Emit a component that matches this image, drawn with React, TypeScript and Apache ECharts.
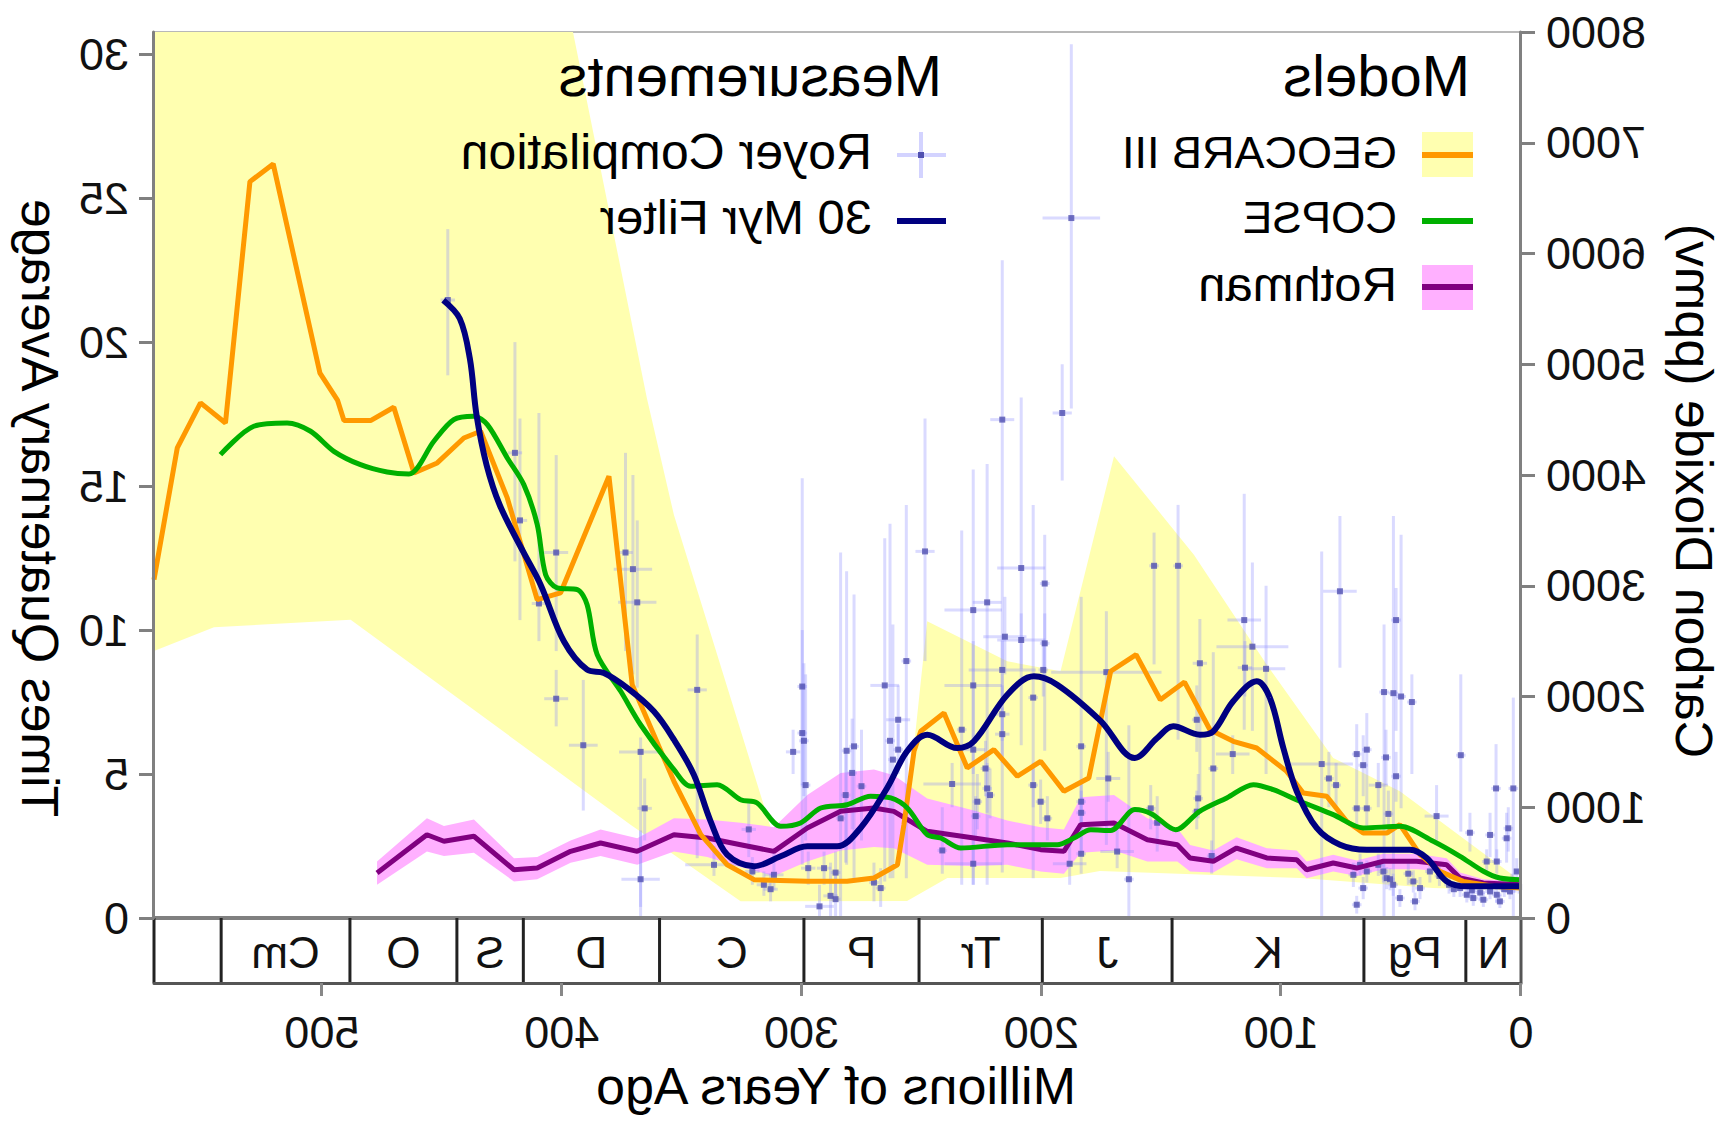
import React, { useEffect, useRef } from "react";
import * as echarts from "echarts";

const FONT = "'Liberation Sans', Arial, Helvetica, sans-serif";

const AGE_MAX = 570;
const PPM_MAX = 8000;
const PPM_PER_TQA = 260;
const xTickValues = [0, 100, 200, 300, 400, 500];
const tqaTickValues = [0, 5, 10, 15, 20, 25, 30];

// geologic periods [start Ma, end Ma, label]
const periods: [number, number, string][] = [
  [0, 23, "N"], [23, 65.5, "Pg"], [65.5, 145.5, "K"], [145.5, 199.6, "J"],
  [199.6, 251, "Tr"], [251, 299, "P"], [299, 359.2, "C"], [359.2, 416, "D"],
  [416, 443.7, "S"], [443.7, 488.3, "O"], [488.3, 542, "Cm"], [542, 570, ""],
];

// GEOCARB III [Ma, ppm]
const geocarb: [number, number][] = [
  [570, 3055], [560.3, 4244], [550.6, 4651], [540.2, 4470], [530, 6649], [520.3, 6809],
  [500.8, 4919], [493.5, 4677], [490.8, 4491], [479.7, 4491], [470, 4612], [461.6, 4018],
  [451.9, 4109], [440.8, 4334], [433.8, 4395], [422.7, 3793], [410.2, 2874], [400.5, 2935],
  [380.3, 3989], [370.6, 2107], [353.2, 1234], [342, 752], [331, 481], [319.8, 346],
  [297.6, 331], [281, 331], [269.8, 361], [260, 481], [257.3, 843], [253.1, 1505],
  [250.3, 1686], [240.6, 1851], [230.9, 1355], [219.8, 1520], [210, 1280], [200.3, 1415],
  [190.6, 1144], [180.2, 1264], [171.1, 2228], [160.5, 2378], [150.4, 1971], [140.3, 2130],
  [129.7, 1700], [120, 1595], [110.2, 1535], [97.7, 1324], [90.8, 1129], [81, 1099],
  [72.7, 873], [65.8, 767], [56, 767], [50.5, 843], [42.1, 572], [33.8, 421],
  [24.1, 331], [11.6, 286], [0, 271],
];

// GEOCARB III uncertainty envelope
const geocarbUpper: [number, number][] = [
  [570, 8000], [395.3, 8000], [364.5, 4696], [353.2, 3639], [312.8, 813], [300, 600],
  [270, 650], [256, 963], [247.6, 2679], [214.2, 2318], [192, 2228], [169.7, 4169],
  [136.4, 3281], [106, 2287], [78.3, 1445], [50.5, 1144], [1.8, 361], [0, 350],
];
const geocarbLower: [number, number][] = [
  [570, 2410], [545, 2625], [488, 2694], [371.3, 843], [353.2, 572], [325.4, 151],
  [256, 153], [239.2, 361], [192, 361], [175.6, 424], [92, 361], [36.7, 271], [0, 250],
];

// COPSE [Ma, ppm]
const copse: [number, number][] = [
  [542.3, 4184], [528.4, 4440], [514.5, 4470], [504.7, 4395], [495, 4214], [483.9, 4093],
  [472.8, 4027], [463.7, 4009], [453.3, 4305], [445, 4500], [436.6, 4530], [431, 4455],
  [422.7, 4154], [415.8, 3913], [410.2, 3552], [406.7, 3100], [401.9, 2980], [393.5, 2965],
  [389.4, 2829], [385.2, 2378], [375.4, 2047], [367.1, 1745], [353.2, 1340], [346.2, 1189],
  [335.2, 1204], [325.4, 1068], [318.5, 1038], [308.7, 828], [300.4, 858], [292, 993],
  [281, 1023], [271.2, 1099], [262.8, 1084], [255.9, 993], [247.6, 752], [242, 722],
  [233.6, 632], [214.2, 662], [193.4, 662], [186.4, 722], [179.4, 797], [171.1, 790],
  [161, 980], [154, 940], [144, 797], [134, 963], [122.7, 1084], [111.6, 1204],
  [103.3, 1159], [92.2, 1054], [78.3, 933], [65.8, 813], [50.5, 828], [36.6, 693],
  [25.4, 557], [15.7, 422], [8.8, 361], [0, 346],
];

// Rothman [Ma, ppm, low, high]
const rothman: [number, number, number, number][] = [
  [477, 406, 300, 510], [456.2, 752, 600, 900], [449.1, 693, 560, 830], [436.6, 738, 590, 890],
  [419.9, 436, 330, 540], [410.2, 451, 350, 550], [396.3, 602, 500, 700], [383.8, 677, 560, 800],
  [368.5, 602, 480, 720], [353.2, 752, 600, 900], [339.3, 722, 550, 890], [325.4, 662, 460, 860],
  [311.5, 602, 380, 820], [297.6, 813, 510, 1110], [283.7, 963, 610, 1310], [269.8, 993, 640, 1340],
  [261.5, 963, 630, 1290], [247.6, 783, 480, 1080], [228.1, 722, 470, 970], [214.2, 677, 480, 880],
  [200.3, 617, 420, 820], [190.6, 602, 400, 800], [183.6, 843, 590, 1090], [169.7, 858, 610, 1110],
  [155.8, 707, 510, 900], [143.3, 662, 510, 810], [138, 542, 420, 660], [128.3, 512, 410, 610],
  [118.6, 632, 530, 730], [106, 542, 450, 630], [93.5, 527, 450, 610], [89.4, 436, 360, 510],
  [78.3, 497, 420, 570], [68.5, 451, 380, 520], [57.4, 512, 440, 580], [43.5, 512, 440, 580],
  [31, 481, 420, 540], [25.4, 361, 310, 410], [15.7, 316, 280, 350], [0, 301, 270, 330],
];

// 30 Myr filter [Ma, ppm]
const filter30: [number, number][] = [
  [449.4, 5578], [442.5, 5412], [438.3, 5051], [435.5, 4539], [431.3, 4088], [425.8, 3727],
  [416, 3305], [408.8, 3010], [399.1, 2499], [389.4, 2242], [382.4, 2212], [372.7, 2077],
  [361.6, 1866], [353.2, 1610], [344.9, 1294], [337.9, 873], [331, 572], [319.8, 467],
  [308.7, 557], [297.6, 647], [285.2, 647], [275.4, 813], [264.3, 1174], [256, 1505],
  [247.6, 1655], [235.1, 1535], [228.1, 1596], [214.2, 2016], [203.1, 2183], [193.4, 2107],
  [175.5, 1785], [161, 1445], [151.7, 1625], [145, 1731], [133.9, 1655], [128.3, 1686],
  [120, 1957], [110.2, 2137], [104.7, 1987], [99.1, 1535], [93.5, 1144], [85.2, 813],
  [75.5, 662], [64.3, 617], [46.3, 617], [39.3, 542], [31, 331], [22.6, 286], [0, 286],
];

// Royer compilation [Ma, ppm, low, high, age error]
const royer: [number, number, number, number, number][] = [
  [447.5, 5580, 4900, 6220, 3], [419.5, 4200, 3220, 5200, 3], [417.4, 3590, 2690, 4510, 3],
  [409.5, 2840, 2500, 4560, 3], [402.3, 3300, 2410, 4180, 5], [402.3, 1980, 1730, 2240, 5],
  [391, 1560, 970, 2150, 6], [373.4, 3300, 2410, 4200, 3], [370.3, 3150, 2200, 4000, 8],
  [368.5, 2850, 2080, 3590, 8], [367.1, 1500, 100, 1630, 9], [365.4, 990, 700, 1260, 3],
  [367.1, 350, 0, 790, 8], [343.5, 2060, 540, 2560, 4], [336.5, 480, 380, 650, 12],
  [322, 800, 550, 1040, 3], [311.5, 390, 250, 600, 4], [312.9, 260, 150, 400, 3],
  [320.5, 420, 300, 550, 3], [315.7, 300, 200, 420, 3], [299.7, 2090, 480, 3970, 2],
  [299.7, 1670, 1200, 2600, 2], [299, 1600, 1100, 2300, 2], [303.5, 1500, 1300, 1700, 3],
  [298.3, 1200, 700, 2200, 2], [297.2, 450, 300, 600, 3], [290.6, 450, 300, 600, 3],
  [292.5, 105, 0, 300, 6], [287.9, 200, 0, 500, 3], [285.8, 170, 0, 400, 2],
  [283.7, 900, 0, 3300, 2], [285.8, 410, 200, 600, 2], [281.2, 1510, 480, 3130, 2],
  [278.1, 1550, 330, 2920, 2], [278.9, 1310, 800, 1800, 2], [275, 1190, 700, 1700, 2],
  [281.6, 1110, 500, 1500, 2], [269.8, 320, 150, 500, 2], [267, 270, 100, 450, 2],
  [265.3, 2100, 330, 3430, 6], [263.1, 1600, 360, 3560, 2], [261.9, 1430, 360, 2650, 2],
  [259.7, 1790, 1500, 2100, 5], [259.7, 1520, 1300, 1750, 2], [256.3, 2320, 360, 3730, 2],
  [248.5, 3310, 2320, 4510, 4], [241.3, 610, 400, 1000, 2], [237.2, 1210, 1000, 1400, 12],
  [233.2, 1700, 300, 3500, 2], [228.4, 2780, 300, 4050, 12], [228.4, 2100, 1700, 2500, 12],
  [228.4, 1520, 1300, 1700, 5], [228.4, 490, 300, 700, 12], [226.7, 1050, 800, 1300, 2],
  [227.4, 920, 700, 1100, 2], [222.6, 2850, 300, 4100, 6], [223.3, 1350, 1100, 1600, 2],
  [222.6, 1170, 950, 1400, 2], [221.4, 1110, 900, 1350, 2], [216.3, 4500, 410, 5940, 5],
  [215.2, 2540, 2200, 2900, 9], [216.3, 2240, 2000, 2500, 14], [216.3, 1840, 1600, 2100, 3],
  [216.3, 1660, 1400, 1900, 3], [208.4, 3160, 1560, 4700, 10], [208.4, 2510, 2250, 2750, 10],
  [203.4, 1990, 360, 3730, 2], [203.4, 1200, 1000, 1400, 2], [200.3, 1050, 850, 1250, 2],
  [198.6, 3020, 1510, 3460, 2], [198.6, 2480, 2200, 2750, 2], [199.2, 2240, 2000, 2500, 2],
  [197.5, 900, 700, 1100, 2], [191.3, 4560, 3950, 5000, 4], [187.5, 6320, 4600, 7890, 12],
  [188.2, 490, 300, 680, 7], [183.4, 1550, 600, 2900, 2], [183.4, 1050, 850, 1250, 2],
  [183.4, 950, 750, 1150, 2], [183.4, 580, 400, 760, 2], [172.9, 2220, 660, 2770, 23],
  [172.1, 1260, 1050, 1500, 5], [168.4, 600, 450, 800, 7], [163.5, 350, 0, 1740, 2],
  [153, 3180, 2290, 3480, 2], [143, 3180, 1610, 3730, 2], [151.7, 860, 600, 1100, 2],
  [154.4, 990, 800, 1200, 2], [133.9, 2300, 1100, 2700, 3], [135.2, 1790, 1500, 2100, 2],
  [134.6, 1080, 900, 1300, 2], [135.2, 960, 800, 1150, 2], [128.3, 1350, 500, 2400, 2],
  [129, 560, 400, 700, 2], [120.2, 1480, 1300, 1650, 7], [115.4, 2690, 1700, 3830, 7],
  [112, 2450, 1690, 3210, 15], [115.1, 2260, 2000, 2500, 3], [106.3, 2250, 1300, 3000, 8],
  [83.1, 1390, 0, 3310, 13], [80.1, 1260, 1000, 1500, 2], [77.1, 1200, 1000, 1400, 2],
  [75.5, 2950, 2260, 3630, 7], [68.5, 1480, 1200, 1750, 2], [64.3, 1520, 1200, 1850, 2],
  [65.8, 1380, 1100, 1650, 2], [68.5, 990, 800, 1200, 2], [64.3, 990, 800, 1200, 2],
  [57.1, 2040, 0, 2650, 2], [53.2, 2030, 0, 3630, 2], [50, 2000, 990, 3460, 2],
  [45.5, 1950, 1300, 2200, 2], [52.1, 2690, 1690, 2980, 2], [56.3, 1450, 1200, 1700, 2],
  [59.5, 1200, 1000, 1400, 4], [52.1, 1280, 1050, 1500, 2], [55.3, 940, 750, 1150, 2],
  [35.2, 920, 700, 1200, 5], [25.1, 1470, 780, 2200, 2], [21.3, 770, 600, 950, 2],
  [10.4, 1170, 480, 1570, 2], [3.2, 1170, 0, 1990, 2], [5.3, 810, 600, 1000, 2],
  [12.9, 750, 550, 950, 2], [6, 720, 500, 950, 2],
  [69.9, 390, 280, 500, 2], [65.8, 270, 170, 370, 2], [68.5, 120, 40, 200, 2],
  [56, 360, 260, 460, 2], [53.3, 300, 200, 400, 2], [50.5, 180, 100, 260, 2],
  [44.9, 330, 230, 430, 2], [44.2, 150, 70, 230, 2], [42.1, 270, 170, 370, 2],
  [25.4, 270, 190, 350, 2], [22.6, 210, 140, 280, 2], [19.9, 180, 110, 250, 2],
  [15.7, 165, 100, 230, 2], [12.9, 240, 170, 310, 2], [10.1, 210, 140, 280, 2],
  [8.8, 150, 90, 210, 2], [4.6, 240, 170, 310, 2], [1.8, 420, 300, 540, 1],
  [14.3, 510, 400, 620, 2], [10.1, 510, 400, 620, 2], [67.1, 480, 380, 580, 2],
  [64.3, 420, 320, 520, 2], [57.4, 420, 320, 520, 2], [54.6, 350, 250, 450, 2],
  [59.5, 480, 380, 580, 2], [20.5, 250, 180, 320, 2], [17, 230, 160, 300, 2],
  [7, 260, 190, 330, 2], [2.5, 300, 230, 370, 1], [0.8, 280, 220, 340, 1],
  [30, 300, 220, 380, 2], [28, 260, 190, 330, 2], [34, 380, 290, 470, 2],
  [38, 420, 320, 520, 2], [47, 400, 300, 500, 2], [3.8, 330, 260, 400, 1],
];

const C_YELLOW = "#ffffb0";
const C_ORANGE = "#ff9900";
const C_GREEN = "#00b000";
const C_PURPLE = "#800080";
const C_PINK = "#ffb0ff";
const C_NAVY = "#000080";
const C_POINT = "#5050b0";
const C_BAR = "rgba(140,140,255,0.32)";

const BAR_H = 65;

function bandSeries(upper: [number, number][], lower: [number, number][], color: string, z: number) {
  return {
    type: "custom",
    coordinateSystem: "cartesian2d",
    xAxisIndex: 0,
    yAxisIndex: 0,
    z,
    silent: true,
    data: [[0, 0]],
    renderItem: (_p: any, api: any) => {
      const pts = upper
        .map((p) => api.coord(p))
        .concat(lower.slice().reverse().map((p) => api.coord(p)));
      return { type: "polygon", shape: { points: pts }, style: { fill: color } };
    },
  };
}

function txt(text: string, x: number, y: number, size: number, align = "left", rotation = 0) {
  return {
    type: "text",
    x,
    y,
    rotation,
    z: 100,
    style: {
      text,
      fill: "#000",
      fontSize: size,
      fontFamily: FONT,
      textAlign: align,
      textVerticalAlign: "middle",
    },
  };
}

function ln(x1: number, y1: number, x2: number, y2: number, stroke: string, w: number) {
  return { type: "line", z: 100, shape: { x1, y1, x2, y2 }, style: { stroke, lineWidth: w } };
}

export default function App() {
  const ref = useRef<HTMLDivElement>(null);

  useEffect(() => {
    if (!ref.current) return;
    const chart = echarts.init(ref.current, null, { renderer: "svg" });

    const axisLineStyle = { color: "#808080", width: 3 };
    const option: any = {
      animation: false,
      backgroundColor: "#ffffff",
      textStyle: { fontFamily: FONT },
      grid: {
        left: 211,
        right: 154,
        top: 32,
        bottom: 210,
        show: true,
        borderColor: "#b8b8b8",
        borderWidth: 2,
        backgroundColor: "transparent",
      },
      xAxis: {
        type: "value",
        min: 0,
        max: AGE_MAX,
        position: "bottom",
        offset: BAR_H,
        z: 10,
        axisLine: { show: true, onZero: false, lineStyle: { color: "#555", width: 3 } },
        axisTick: { show: true, length: 13, customValues: xTickValues, lineStyle: { color: "#888", width: 3 } },
        axisLabel: {
          customValues: xTickValues,
          fontSize: 45,
          color: "#111",
          margin: 27,
          fontFamily: FONT,
          formatter: (v: number) => (xTickValues.includes(v) ? String(v) : ""),
        },
        splitLine: { show: false },
      },
      yAxis: [
        {
          type: "value",
          min: 0,
          max: PPM_MAX,
          interval: 1000,
          position: "left",
          z: 10,
          axisLine: { show: true, lineStyle: axisLineStyle },
          axisTick: { show: true, length: 14, lineStyle: axisLineStyle },
          axisLabel: {
            fontSize: 45,
            color: "#111",
            margin: 25,
            fontFamily: FONT,
            formatter: (v: number) => String(v),
          },
          splitLine: { show: false },
        },
        {
          type: "value",
          min: 0,
          max: PPM_MAX / PPM_PER_TQA,
          interval: 5,
          position: "right",
          z: 10,
          axisLine: { show: true, lineStyle: axisLineStyle },
          axisTick: { show: true, length: 15, customValues: tqaTickValues, lineStyle: axisLineStyle },
          axisLabel: {
            customValues: tqaTickValues,
            fontSize: 45,
            color: "#111",
            margin: 25,
            fontFamily: FONT,
            formatter: (v: number) => (tqaTickValues.includes(v) ? String(v) : ""),
          },
          splitLine: { show: false },
        },
      ],
      graphic: [
        txt("Models", 262, 75, 58),
        { type: "rect", z: 100, shape: { x: 259, y: 132, width: 51, height: 45 }, style: { fill: C_YELLOW } },
        ln(259, 155, 310, 155, C_ORANGE, 6),
        txt("GEOCARB III", 335, 152, 45),
        ln(259, 221, 310, 221, C_GREEN, 6),
        txt("COPSE", 335, 217, 44),
        { type: "rect", z: 100, shape: { x: 259, y: 265, width: 51, height: 45 }, style: { fill: C_PINK } },
        ln(259, 287, 310, 287, C_PURPLE, 6),
        txt("Rothman", 335, 284, 49),
        txt("Measurements", 790, 75, 58),
        ln(786, 155, 835, 155, "rgba(200,200,255,0.8)", 4),
        ln(811, 132, 811, 178, "rgba(200,200,255,0.8)", 4),
        { type: "rect", z: 101, shape: { x: 808, y: 152, width: 6, height: 6 }, style: { fill: C_POINT } },
        txt("Royer Compilation", 860, 152, 50),
        ln(786, 221, 835, 221, C_NAVY, 6),
        txt("30 Myr Filter", 860, 217, 49),
        txt("Carbon Dioxide (ppmv)", 38, 491, 52, "center", Math.PI / 2),
        txt("Times Quaternary Average", 1692, 508, 52, "center", Math.PI / 2),
        txt("Millions of Years Ago", 896, 1086, 52, "center"),
      ],
      series: [
        bandSeries(geocarbUpper, geocarbLower, C_YELLOW, 1),
        bandSeries(
          rothman.map((r) => [r[0], r[3]] as [number, number]),
          rothman.map((r) => [r[0], r[2]] as [number, number]),
          C_PINK,
          2
        ),
        {
          type: "custom",
          name: "Royer error bars",
          coordinateSystem: "cartesian2d",
          z: 3,
          silent: true,
          dimensions: ["age", "co2", "lo", "hi", "ae"],
          encode: { x: 0, y: 1 },
          data: royer,
          renderItem: (_p: any, api: any) => {
            const age = api.value(0);
            const co2 = api.value(1);
            const lo = api.value(2);
            const hi = api.value(3);
            const ae = api.value(4);
            const t = api.coord([age, hi]);
            const b = api.coord([age, lo]);
            const l = api.coord([age + ae, co2]);
            const r = api.coord([age - ae, co2]);
            const st = { stroke: C_BAR, lineWidth: 3 };
            return {
              type: "group",
              children: [
                { type: "line", shape: { x1: t[0], y1: t[1], x2: b[0], y2: b[1] }, style: st },
                { type: "line", shape: { x1: l[0], y1: l[1], x2: r[0], y2: r[1] }, style: st },
              ],
            };
          },
        },
        {
          type: "scatter",
          name: "Royer Compilation",
          z: 4,
          symbol: "rect",
          symbolSize: 6,
          itemStyle: { color: C_POINT },
          data: royer.map((r) => [r[0], r[1]]),
        },
        {
          type: "line",
          name: "Rothman",
          z: 5,
          showSymbol: false,
          lineStyle: { color: C_PURPLE, width: 5 },
          data: rothman.map((r) => [r[0], r[1]]),
        },
        {
          type: "line",
          name: "GEOCARB III",
          z: 6,
          showSymbol: false,
          lineStyle: { color: C_ORANGE, width: 5 },
          data: geocarb,
        },
        {
          type: "line",
          name: "COPSE",
          z: 7,
          showSymbol: false,
          smooth: 0.3,
          lineStyle: { color: C_GREEN, width: 5 },
          data: copse,
        },
        {
          type: "line",
          name: "30 Myr Filter",
          z: 8,
          showSymbol: false,
          smooth: 0.35,
          lineStyle: { color: C_NAVY, width: 6 },
          data: filter30,
        },
        {
          type: "custom",
          name: "Periods",
          coordinateSystem: "cartesian2d",
          z: 9,
          silent: true,
          data: periods.map((p) => [p[0], 0]),
          renderItem: (params: any, api: any) => {
            const [a0, a1, lab] = periods[params.dataIndex];
            const p0 = api.coord([a0, 0]);
            const p1 = api.coord([a1, 0]);
            const y0 = p0[1];
            const y1 = y0 + BAR_H;
            const children: any[] = [
              { type: "line", shape: { x1: p1[0], y1: y0, x2: p1[0], y2: y1 }, style: { stroke: "#222", lineWidth: 3 } },
              {
                type: "text",
                x: (p0[0] + p1[0]) / 2,
                y: (y0 + y1) / 2 + 2,
                style: {
                  text: lab,
                  fill: "#111",
                  fontSize: 44,
                  fontFamily: FONT,
                  textAlign: "center",
                  textVerticalAlign: "middle",
                },
              },
            ];
            if (params.dataIndex === 0) {
              const e = api.coord([AGE_MAX, 0]);
              children.push({ type: "line", shape: { x1: p0[0], y1: y0, x2: p0[0], y2: y1 }, style: { stroke: "#555", lineWidth: 3 } });
              children.push({ type: "line", shape: { x1: p0[0], y1: y0, x2: e[0], y2: y0 }, style: { stroke: "#808080", lineWidth: 4 } });
            }
            return { type: "group", children };
          },
        },
      ],
    };

    chart.setOption(option);
    return () => chart.dispose();
  }, []);

  return (
    <div
      ref={ref}
      style={{
        position: "absolute",
        left: 0,
        top: 0,
        width: 1732,
        height: 1128,
        transform: "scaleX(-1)",
        background: "#fff",
      }}
    />
  );
}
